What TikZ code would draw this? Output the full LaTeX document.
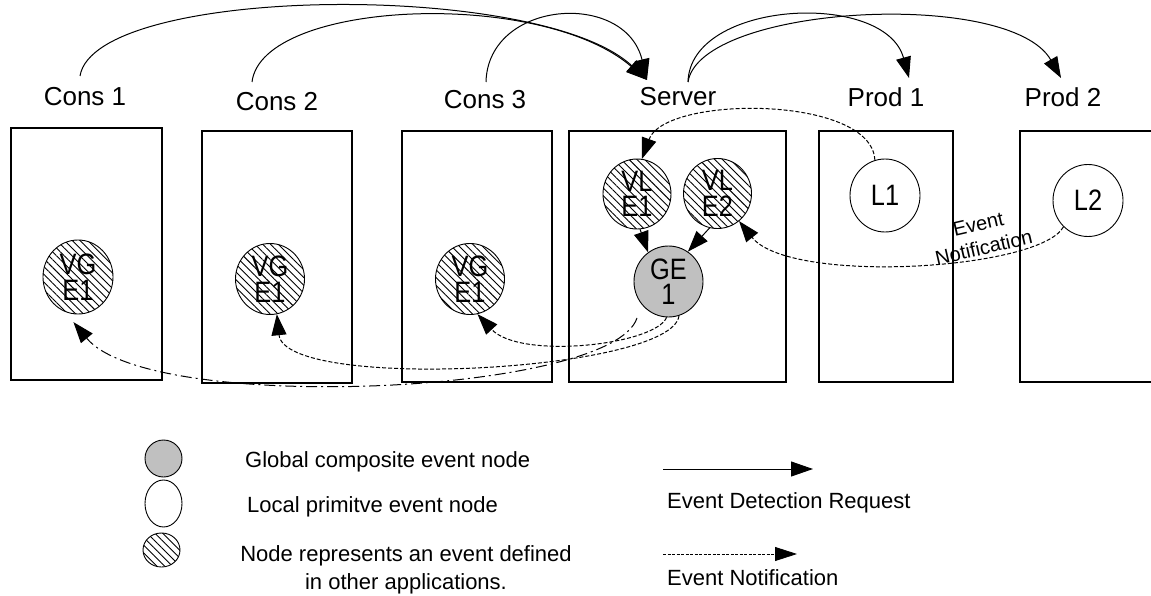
\documentclass[tikz,border=0pt]{standalone}
\usepackage{fontspec}
\setmainfont{Liberation Sans}
\newfontfamily\evfont[FakeStretch=0.86]{Liberation Sans}
\usetikzlibrary{arrows.meta,shapes.geometric,patterns.meta}
\definecolor{evgray}{RGB}{192,192,192}

\begin{document}
\begin{tikzpicture}[x=1pt,y=-1pt,
  appbox/.style={draw,line width=1.2pt},
  applabel/.style={font=\fontsize{26}{30}\selectfont,inner sep=0pt},
  evnode/.style={ellipse,draw,line width=0.9pt,inner sep=0pt,
    minimum width=69pt,minimum height=71pt,align=center,
    font=\evfont\fontsize{29.5}{25.5}\selectfont},
  hatched/.style={pattern={Lines[angle=-45,distance=5.5pt,line width=0.9pt]}},
  globalev/.style={fill=evgray},
  bigtip/.style={-{Triangle[length=21pt,width=15pt]}},
  req/.style={line width=1pt,bigtip},
  notif/.style={line width=1pt,dash pattern=on 4pt off 2pt,bigtip},
  notifdd/.style={line width=1pt,dash pattern=on 11pt off 4pt on 2pt off 4pt,bigtip},
  legtext/.style={font=\fontsize{22}{28}\selectfont,inner sep=0pt}
]
\path[use as bounding box,fill=white] (0,0) rectangle (1151,596);

% application boxes
\draw[appbox] (11,128) rectangle (162,380);
\draw[appbox] (202,131) rectangle (352,383);
\draw[appbox] (402,131) rectangle (552,382);
\draw[appbox] (569,131) rectangle (786,382);
\draw[appbox] (819,131) rectangle (953,382);
\draw[appbox] (1020,131) rectangle (1160,382);

% application names
\node[applabel] (c1lab) at (85,97) {Cons 1};
\node[applabel] (c2lab) at (277,102) {Cons 2};
\node[applabel] (c3lab) at (485,100) {Cons 3};
\node[applabel] (srvlab) at (678,97) {Server};
\node[applabel] (p1lab) at (886,97) {Prod 1};
\node[applabel] (p2lab) at (1063,97) {Prod 2};

% event nodes
\node[evnode,hatched,minimum width=70pt,minimum height=74pt] (vg1) at (78,277) {VG\\E1};
\node[evnode,hatched] (vg2) at (270,279) {VG\\E1};
\node[evnode,hatched] (vg3) at (470,279) {VG\\E1};
\node[evnode,hatched,minimum width=68pt,minimum height=70pt] (vle1) at (637,194) {VL\\E1};
\node[evnode,hatched,minimum width=68pt,minimum height=70pt] (vle2) at (717.5,193.5) {VL\\E2};
\node[evnode,globalev] (ge1) at (668.5,281.5) {GE\\1};
\node[evnode,minimum width=70pt,minimum height=73pt] (l1) at (885,195.5) {L1};
\node[evnode,minimum width=70pt,minimum height=72pt] (l2) at (1088,200.5) {L2};

% event detection requests
\draw[req] ([shift={(-5,-21)}]c1lab.center) .. controls (95,-15) and (540,-20) .. ([shift={(-31,-17)}]srvlab.center);
\draw[req] ([shift={(-25,-20)}]c2lab.center) .. controls (262,0) and (540,-12) .. ([shift={(-31,-17)}]srvlab.center);
\draw[req] ([shift={(1,-18)}]c3lab.center) .. controls (488,0) and (625,-10) .. ([shift={(-31,-17)}]srvlab.center);
\draw[req] ([shift={(10,-15)}]srvlab.center) .. controls (690,0) and (885,-10) .. ([shift={(23,-19)}]p1lab.center);
\draw[req] ([shift={(10,-15)}]srvlab.center) .. controls (700,5) and (1010,-12) .. ([shift={(-2,-19)}]p2lab.center);

% composition inside the server
\draw[req] (vle1.-85) -- (ge1.125);
\draw[req] (vle2.-103) -- (ge1.57);

% event notifications
\draw[notif] (l1.106) .. controls (872,95) and (665,95) .. (vle1.82);
\draw[notif] (l2.227) .. controls (1040,270) and (790,285) .. (vle2.-52);
\node[font=\fontsize{20}{24}\selectfont,rotate=13,align=center,inner sep=0pt] (enlab) at (981,236) {Event\\Notification};

\draw[notifdd] ([shift={(-31.5,36.5)}]ge1.center) .. controls (612,395) and (150,415) .. ([shift={(0,8)}]vg1.-97);
\draw[notif] (ge1.-93) .. controls (655,345) and (520,360) .. (vg3.-78);
\draw[notif] (ge1.-73) .. controls (672,372) and (285,392) .. (vg2.-79);

% legend
\node[evnode,globalev,minimum width=37pt,minimum height=37pt] (legg) at (163.5,458.5) {};
\node[evnode,minimum width=37pt,minimum height=47pt] (legl) at (163.5,503.5) {};
\node[evnode,hatched,minimum width=37pt,minimum height=34pt] (legh) at (161.5,550) {};
\node[legtext,anchor=base west] (legtg) at (245,467) {Global composite event node};
\node[legtext,anchor=base west] (legtl) at (247,512) {Local primitve event node};
\node[legtext,align=center] (legth) at (406,570) {Node represents an event defined\\in other applications.};

\coordinate (rq0) at (663,469);
\coordinate (rq1) at (813,469);
\draw[line width=1pt,-{Triangle[length=22pt,width=15pt]}] (rq0) -- (rq1);
\node[legtext,anchor=base west] (legtr) at (667,508) {Event Detection Request};
\coordinate (nt0) at (663,554);
\coordinate (nt1) at (797,554);
\draw[line width=0.8pt,dash pattern=on 3pt off 1.5pt,-{Triangle[length=22pt,width=14pt]}] (nt0) -- (nt1);
\node[legtext,anchor=base west] (legtn) at (667,585) {Event Notification};
\end{tikzpicture}
\end{document}
